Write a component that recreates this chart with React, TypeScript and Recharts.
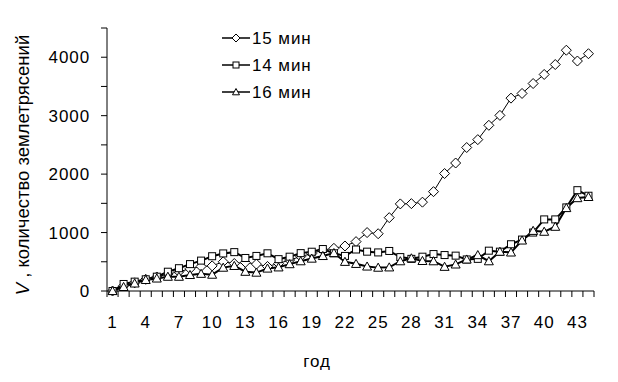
import React from 'react';
import { LineChart, Line, XAxis, YAxis, Label } from 'recharts';

const YEARS = [1, 2, 3, 4, 5, 6, 7, 8, 9, 10, 11, 12, 13, 14, 15, 16, 17, 18, 19, 20, 21, 22, 23, 24, 25, 26, 27, 28, 29, 30, 31, 32, 33, 34, 35, 36, 37, 38, 39, 40, 41, 42, 43, 44];

const V15 = [0, 90, 140, 200, 240, 290, 330, 380, 420, 430, 500, 470, 490, 460, 420, 470, 530, 590, 640, 700, 730, 770, 845, 1000, 980, 1255, 1490, 1495, 1520, 1700, 2010, 2190, 2455, 2590, 2835, 3005, 3300, 3380, 3550, 3705, 3875, 4120, 3935, 4060];
const V14 = [0, 120, 160, 200, 245, 330, 390, 460, 520, 595, 643, 665, 565, 600, 645, 545, 587, 648, 672, 718, 645, 600, 710, 673, 660, 685, 580, 550, 587, 632, 615, 605, 540, 550, 690, 673, 800, 880, 1000, 1225, 1225, 1430, 1725, 1630];
const V16 = [0, 70, 130, 190, 215, 245, 245, 275, 295, 280, 400, 430, 330, 315, 385, 405, 460, 510, 555, 600, 650, 500, 465, 420, 400, 405, 510, 560, 515, 510, 415, 455, 540, 615, 510, 673, 660, 865, 1030, 1015, 1100, 1420, 1590, 1610];

const X_LABELS = [1, 4, 7, 10, 13, 16, 19, 22, 25, 28, 31, 34, 37, 40, 43];
const Y_TICKS = [0, 500, 1000, 1500, 2000, 2500, 3000, 3500, 4000, 4500];
const SERIES_NAMES = ['15 мин', '14 мин', '16 мин'];

const W = 618;
const H = 382;
const M = { top: 28, right: 24, left: 47, bottom: 31 };
const Y_AXIS_W = 60;
const X_AXIS_H = 60;
const PLOT_W = W - M.left - M.right - Y_AXIS_W;
const BAND = PLOT_W / YEARS.length;
const FONT = '"Liberation Sans", Arial, sans-serif';
const FS = 17;
const LS = 0.9;

const X_BOUNDS = YEARS.map((y) => y - 0.5).concat([YEARS[YEARS.length - 1] + 0.5]);

const data = YEARS.map((y, i) => ({ year: y, v15: V15[i], v14: V14[i], v16: V16[i] }));

const diamondPath = (cx: number, cy: number, r: number) =>
  `M${cx},${cy - r} L${cx + r},${cy} L${cx},${cy + r} L${cx - r},${cy} Z`;
const trianglePath = (cx: number, cy: number, r: number) =>
  `M${cx},${cy - r} L${cx + r},${cy + r * 0.8} L${cx - r},${cy + r * 0.8} Z`;

const DiamondDot = (p: any) => {
  if (p.cx == null || p.cy == null) return <g key={p.index} />;
  return <path key={p.index} d={diamondPath(p.cx, p.cy, 5)} fill="#fff" stroke="#000" strokeWidth={1} />;
};
const SquareDot = (p: any) => {
  if (p.cx == null || p.cy == null) return <g key={p.index} />;
  return <rect key={p.index} x={p.cx - 3.5} y={p.cy - 3.5} width={7} height={7} fill="#fff" stroke="#000" strokeWidth={1} />;
};
const TriangleDot = (p: any) => {
  if (p.cx == null || p.cy == null) return <g key={p.index} />;
  return <path key={p.index} d={trianglePath(p.cx, p.cy, 4.5)} fill="#fff" stroke="#000" strokeWidth={1} />;
};

const XTick = (p: any) => {
  const center = p.payload.value + 0.5;
  if (!X_LABELS.includes(center)) return <g />;
  return (
    <text x={p.x + BAND / 2} y={p.y} dy="0.71em" textAnchor="middle" fontSize={FS} letterSpacing={LS} fontFamily={FONT} fill="#000">
      {center}
    </text>
  );
};

const YTick = (p: any) => {
  const v = p.payload.value;
  if (v % 1000 !== 0) return <g />;
  return (
    <text x={p.x} y={p.y} dy="0.36em" textAnchor="end" fontSize={FS} letterSpacing={LS} fontFamily={FONT} fill="#000">
      {v}
    </text>
  );
};

const LegendBox = () => {
  const markers = [
    (cx: number, cy: number) => <path d={diamondPath(cx, cy, 4)} fill="#fff" stroke="#000" />,
    (cx: number, cy: number) => <rect x={cx - 3} y={cy - 3} width={6} height={6} fill="#fff" stroke="#000" />,
    (cx: number, cy: number) => <path d={trianglePath(cx, cy, 3.5)} fill="#fff" stroke="#000" />,
  ];
  return (
    <svg width={140} height={85} style={{ position: 'absolute', left: 220, top: 28 }}>
      {SERIES_NAMES.map((n, i) => {
        const cy = 10 + i * 27;
        return (
          <g key={n}>
            <line x1={2} x2={30} y1={cy} y2={cy} stroke="#000" strokeWidth={1.5} />
            {markers[i](16, cy)}
            <text x={32} y={cy} dy="0.36em" fontSize={FS} letterSpacing={LS} fontFamily={FONT} fill="#000">{n}</text>
          </g>
        );
      })}
    </svg>
  );
};

export default function App() {
  return (
    <div style={{ position: 'absolute', left: 0, top: 0, width: W, height: H, background: '#fff' }}>
      <LineChart width={W} height={H} data={data} margin={M}>
        <XAxis
          dataKey="year"
          type="number"
          domain={[0.5, 44.5]}
          ticks={X_BOUNDS}
          interval={0}
          tick={XTick}
          tickSize={6}
          tickMargin={19}
          height={X_AXIS_H}
          stroke="#000"
          allowDataOverflow
        >
          <Label
            content={() => (
              <text x={317} y={361} dy="0.36em" textAnchor="middle" fontSize={FS} letterSpacing={LS} fontFamily={FONT} fill="#000">
                год
              </text>
            )}
          />
        </XAxis>
        <YAxis
          type="number"
          domain={[0, 4500]}
          ticks={Y_TICKS}
          interval={0}
          width={Y_AXIS_W}
          tickSize={6}
          tickMargin={11}
          stroke="#000"
          tick={YTick}
        >
          <Label
            content={() => (
              <text
                x={22}
                y={165}
                transform="rotate(-90, 22, 165)"
                dy="0.36em"
                textAnchor="middle"
                fontSize={18.5}
                fontFamily={FONT}
                fill="#000"
              >
                <tspan fontStyle="italic">V</tspan>
                <tspan> , количество землетрясений</tspan>
              </text>
            )}
          />
        </YAxis>
        <Line dataKey="v15" name={SERIES_NAMES[0]} stroke="#000" strokeWidth={1} dot={DiamondDot} isAnimationActive={false} />
        <Line dataKey="v14" name={SERIES_NAMES[1]} stroke="#000" strokeWidth={2} dot={SquareDot} isAnimationActive={false} />
        <Line dataKey="v16" name={SERIES_NAMES[2]} stroke="#000" strokeWidth={2} dot={TriangleDot} isAnimationActive={false} />
      </LineChart>
      <LegendBox />
    </div>
  );
}
